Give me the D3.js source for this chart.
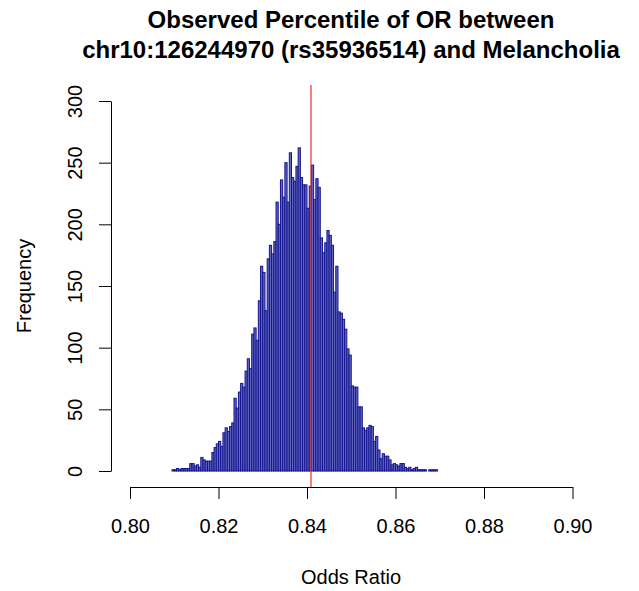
<!DOCTYPE html>
<meta charset="utf-8">
<style type="text/css">
body { margin: 0; background: #fff; }
text { font-family: "Liberation Sans", Arial, Helvetica, sans-serif; fill: #000; }
.bar { fill: #6268c0; stroke: #14148e; stroke-width: 1px; }
.axis path, .axis line { stroke: #000; stroke-width: 1px; fill: none; }
</style>
<body></body>
<script src="https://cdn.jsdelivr.net/npm/d3@7"></script>
<script>

// histogram of permuted odds ratios, bins 0.0005 wide starting at 0.8095
var binStart = 0.8095, binWidth = 0.0005;
var counts = [
  1, 1, 2, 1, 2, 2, 2, 2, 6, 6, 4, 5, 3, 11, 9, 8, 8, 8, 15, 19, 22, 24, 20, 31, 35, 32, 36, 39, 59,
  51, 64, 71, 68, 81, 91, 83, 111, 116, 106, 138, 166, 161, 130, 172, 183, 176, 186, 218, 200, 236,
  222, 250, 218, 258, 238, 235, 247, 262,
  238, 232, 232, 213, 231, 248, 220, 237, 230, 189, 177, 185, 195, 191, 183, 145, 166, 129, 128, 123,
  115, 99, 94, 69, 68, 68, 52, 52, 35, 33, 35, 37, 36, 24, 28, 17, 10, 14, 12, 12, 9, 5, 6, 5, 4, 6,
  6, 3, 2, 3, 1, 2, 3, 1, 1, 1, 1, 0, 1, 1, 1, 1
];
var xTicks = [0.80, 0.82, 0.84, 0.86, 0.88, 0.90];
var yTicks = [0, 50, 100, 150, 200, 250, 300];
var observedOR = 0.8409;

var titleLines = ["Observed Percentile of OR between",
                  "chr10:126244970 (rs35936514) and Melancholia"];

var W = 639, H = 591;

var svg = d3.select("body").append("svg")
    .attr("width", W)
    .attr("height", H);

var x = d3.scaleLinear().domain([0.80, 0.90]).range([130, 572.5]);
var y = d3.scaleLinear().domain([0, 300]).range([471, 101]);

var bins = counts.map(function(c, i) {
    return {x0: binStart + i * binWidth, x1: binStart + (i + 1) * binWidth, n: c};
});

// bars
svg.selectAll(".bar")
    .data(bins)
  .enter().append("rect")
    .attr("class", "bar")
    .attr("x", function(d) { return x(d.x0); })
    .attr("width", function(d) { return x(d.x1) - x(d.x0); })
    .attr("y", function(d) { return y(d.n); })
    .attr("height", function(d) { return y(0) - y(d.n); });

// observed value
svg.append("line")
    .attr("x1", x(observedOR)).attr("x2", x(observedOR))
    .attr("y1", 85).attr("y2", 487)
    .style("stroke", "#e8302e")
    .style("stroke-width", 1.2);

// x axis
var gx = svg.append("g")
    .attr("class", "axis")
    .attr("transform", "translate(0,487)")
    .call(d3.axisBottom(x).tickValues(xTicks).tickSize(12).tickSizeOuter(0)
        .tickFormat(d3.format(".2f")));
gx.selectAll("text").style("font-size", "20px").attr("y", 32);

// y axis with rotated labels
var gy = svg.append("g")
    .attr("class", "axis")
    .attr("transform", "translate(111,0)")
    .call(d3.axisLeft(y).tickValues(yTicks).tickSize(12).tickSizeOuter(0));
gy.selectAll("text")
    .style("font-size", "20px")
    .attr("x", null).attr("dy", null)
    .attr("text-anchor", "middle")
    .attr("transform", "translate(-29,0) rotate(-90)");

// titles
svg.selectAll(".title")
    .data(titleLines)
  .enter().append("text")
    .attr("class", "title")
    .attr("x", 351)
    .attr("y", function(d, i) { return 28 + i * 30; })
    .attr("text-anchor", "middle")
    .style("font-size", "24px")
    .style("font-weight", "bold")
    .text(function(d) { return d; });

svg.append("text")
    .attr("x", 351)
    .attr("y", 584)
    .attr("text-anchor", "middle")
    .style("font-size", "20px")
    .text("Odds Ratio");

svg.append("text")
    .attr("transform", "translate(31,286) rotate(-90)")
    .attr("text-anchor", "middle")
    .style("font-size", "20px")
    .text("Frequency");

</script>
